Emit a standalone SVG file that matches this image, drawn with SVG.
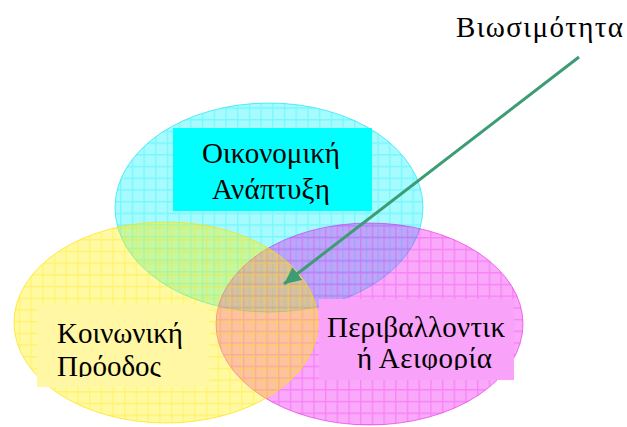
<svg xmlns="http://www.w3.org/2000/svg" width="627" height="427" viewBox="0 0 627 427">
  <style>
    .lbl { font-family: "Liberation Serif", "DejaVu Serif", serif; font-size: 29px; fill: #000; }
    .conn { stroke: #3c9c74; stroke-width: 3; fill: none; }
  </style>
  <defs>
    <!-- plaid fills: translucent base tint plus a lighter grid of the same hue -->
    <pattern id="gridCyan" patternUnits="userSpaceOnUse" width="11.7" height="11.7" x="3" y="2">
      <rect width="11.7" height="11.7" fill="#00f4ff" fill-opacity="0.35"/>
      <path d="M0 0.75H11.7M0.75 0V11.7" stroke="#00ecf4" stroke-width="1.3" stroke-opacity="0.28"/>
    </pattern>
    <pattern id="gridYellow" patternUnits="userSpaceOnUse" width="11.7" height="11.7" x="7" y="5">
      <rect width="11.7" height="11.7" fill="#fff000" fill-opacity="0.37"/>
      <path d="M0 0.75H11.7M0.75 0V11.7" stroke="#ffe200" stroke-width="1.3" stroke-opacity="0.3"/>
    </pattern>
    <pattern id="gridMagenta" patternUnits="userSpaceOnUse" width="11.7" height="11.7" x="9" y="3">
      <rect width="11.7" height="11.7" fill="#f000f0" fill-opacity="0.34"/>
      <path d="M0 0.75H11.7M0.75 0V11.7" stroke="#e800e8" stroke-width="1.3" stroke-opacity="0.22"/>
    </pattern>
    <marker id="arrowHead" markerUnits="userSpaceOnUse" markerWidth="20" markerHeight="18" refX="17" refY="8" orient="auto">
      <path d="M0 0L17 8L0 16Z" fill="#3c9c74"/>
    </marker>
    <clipPath id="clipSocial"><rect x="37" y="305" width="172" height="72"/></clipPath>
    <clipPath id="clipEnv"><rect x="319" y="299" width="195" height="71"/></clipPath>
  </defs>

  <rect width="627" height="427" fill="#fff"/>

  <!-- Economic circle -->
  <g id="economy">
    <ellipse cx="269" cy="207.5" rx="154" ry="104.5" fill="url(#gridCyan)" stroke="#00e0f0" stroke-opacity="0.6" stroke-width="1"/>
  </g>

  <!-- Environmental circle -->
  <g id="environment">
    <ellipse cx="369.5" cy="324" rx="153.5" ry="101" fill="url(#gridMagenta)" stroke="#e000e0" stroke-opacity="0.5" stroke-width="1"/>
  </g>

  <!-- Social circle -->
  <g id="society">
    <ellipse cx="166" cy="322.5" rx="152" ry="100.5" fill="url(#gridYellow)" stroke="#ffe000" stroke-opacity="0.7" stroke-width="1"/>
  </g>

  <!-- Labels -->
  <g id="economy-label">
    <rect x="173" y="128" width="199" height="83" fill="#00ffff"/>
    <text class="lbl" x="202" y="163" textLength="138">Οικονομική</text>
    <text class="lbl" x="212" y="199" textLength="118">Ανάπτυξη</text>
  </g>

  <g id="society-label">
    <rect x="37" y="305" width="172" height="82" fill="#fff7a3"/>
    <g clip-path="url(#clipSocial)">
      <text class="lbl" x="57" y="343" textLength="126">Κοινωνική</text>
      <text class="lbl" x="57" y="376" textLength="104">Πρόοδος</text>
    </g>
  </g>

  <g id="environment-label">
    <rect x="319" y="299" width="195" height="81" fill="#f9a2f9"/>
    <g clip-path="url(#clipEnv)">
      <text class="lbl" x="327" y="337" textLength="178">Περιβαλλοντικ</text>
      <text class="lbl" x="357" y="368" textLength="135">ή Αειφορία</text>
    </g>
  </g>

  <g id="sustainability-label">
    <text class="lbl" x="456" y="37" textLength="167">Βιωσιμότητα</text>
  </g>

  <!-- Connectors -->
  <g id="connectors">
    <line class="conn" x1="579" y1="57" x2="284" y2="284" marker-end="url(#arrowHead)"/>
  </g>
</svg>
